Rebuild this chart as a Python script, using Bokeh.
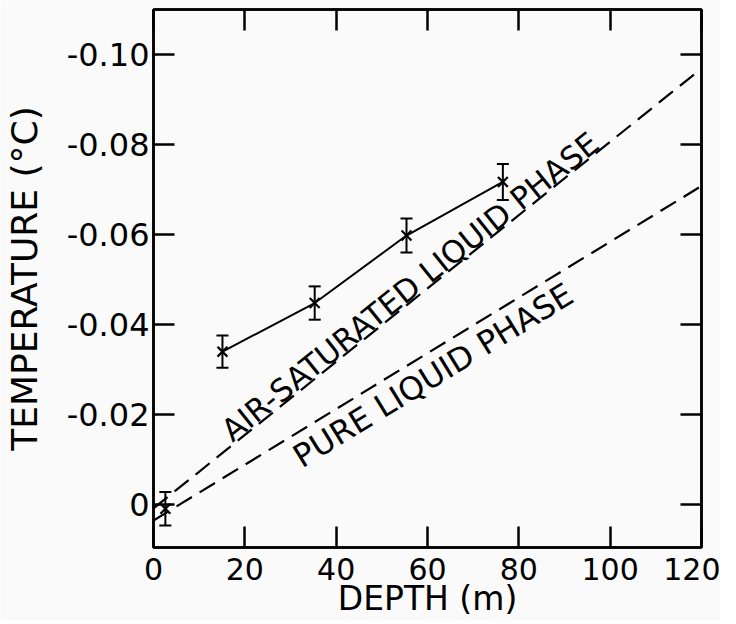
import math
from bokeh.plotting import figure
from bokeh.models import (Range1d, LinearAxis, FixedTicker, Whisker, TeeHead,
                          ColumnDataSource, Label)
from bokeh.embed import file_html
from bokeh.resources import INLINE

# ---- data ----
depth = [2.6, 15.1, 35.3, 55.4, 76.5]                 # m
temp = [0.0009, -0.0340, -0.0448, -0.0598, -0.0717]   # deg C
err = [0.0037, 0.0036, 0.0037, 0.0038, 0.0040]

air_depth = [0, 120]
air_temp = [0.0008, -0.0969]
pure_depth = [0, 120]
pure_temp = [0.0035, -0.0708]

x_ticks = [0, 20, 40, 60, 80, 100, 120]
x_tick_labels = ["0", "20", "40", "60", "80", "100", "120"]
y_ticks = [-0.10, -0.08, -0.06, -0.04, -0.02, 0]
y_tick_labels = ["-0.10", "-0.08", "-0.06", "-0.04", "-0.02", "0"]

x_title = "DEPTH (m)"
y_title = "TEMPERATURE (°C)"
air_title = "AIR-SATURATED LIQUID PHASE"
pure_title = "PURE LIQUID PHASE"

FONT = "DejaVu Sans"
BG = "#f9faf9"

p = figure(width=720, height=620, output_backend="svg", toolbar_location=None,
           x_range=Range1d(0, 120), y_range=Range1d(0.0095, -0.1100),
           min_border_left=153, min_border_right=19, min_border_top=9,
           min_border_bottom=70, background_fill_color=BG, border_fill_color=BG)
p.grid.visible = False
p.outline_line_color = "black"
p.outline_line_width = 2.5


def style_axis(ax, ticks, labels, show_labels=True):
    ax.ticker = FixedTicker(ticks=ticks, minor_ticks=[])
    ax.major_tick_in = 21
    ax.major_tick_out = 0
    ax.minor_tick_in = 0
    ax.minor_tick_out = 0
    ax.major_tick_line_width = 2.5
    ax.major_tick_line_color = "black"
    ax.axis_line_width = 2.5
    ax.axis_line_color = "black"
    if show_labels:
        ax.major_label_overrides = dict(zip(ticks, labels))
        ax.major_label_text_font = FONT
        ax.major_label_text_color = "black"
    else:
        ax.major_label_overrides = {t: "" for t in ticks}
        ax.major_label_text_font_size = "1px"
        ax.major_label_standoff = 0


xa = p.xaxis[0]
style_axis(xa, x_ticks, x_tick_labels)
xa.major_label_text_font_size = "30px"
xa.major_label_standoff = 10
xa.axis_label = x_title
xa.axis_label_text_font = FONT
xa.axis_label_text_font_size = "33px"
xa.axis_label_text_font_style = "normal"
xa.axis_label_text_color = "black"
xa.axis_label_standoff = -4

ya = p.yaxis[0]
style_axis(ya, y_ticks, y_tick_labels)
ya.major_label_text_font_size = "32px"
ya.major_label_standoff = 4
ya.axis_label = y_title
ya.axis_label_text_font = FONT
ya.axis_label_text_font_size = "36px"
ya.axis_label_text_font_style = "normal"
ya.axis_label_text_color = "black"
ya.axis_label_standoff = 19

ra = LinearAxis()
style_axis(ra, y_ticks, y_tick_labels, show_labels=False)
p.add_layout(ra, "right")
ta = LinearAxis()
style_axis(ta, x_ticks, x_tick_labels, show_labels=False)
p.add_layout(ta, "above")

# ---- theory curves ----
p.line(air_depth, air_temp, line_color="black", line_width=2.2, line_dash="18 9")
p.line(pure_depth, pure_temp, line_color="black", line_width=2.2, line_dash="18 9")

# ---- measurements ----
src = ColumnDataSource(dict(
    x=depth, y=temp,
    upper=[t - e for t, e in zip(temp, err)],
    lower=[t + e for t, e in zip(temp, err)],
))
p.line(depth[1:], temp[1:], line_color="black", line_width=2)
p.add_layout(Whisker(source=src, base="x", upper="upper", lower="lower",
                     line_color="black", line_width=2,
                     upper_head=TeeHead(size=12, line_width=2, line_color="black"),
                     lower_head=TeeHead(size=12, line_width=2, line_color="black")))
p.scatter("x", "y", source=src, marker="x", size=14, line_width=2.2,
          line_color="black")

# ---- curve labels ----
p.add_layout(Label(x=15.77, y=-0.0156, text=air_title,
                   angle=math.radians(38.7), text_font=FONT,
                   text_font_size="31px", text_color="black",
                   text_baseline="alphabetic"))
p.add_layout(Label(x=31.27, y=-0.0101, text=pure_title,
                   angle=math.radians(31.5), text_font=FONT,
                   text_font_size="32px", text_color="black",
                   text_baseline="alphabetic"))

open("out.html", "w").write(file_html(p, INLINE))
